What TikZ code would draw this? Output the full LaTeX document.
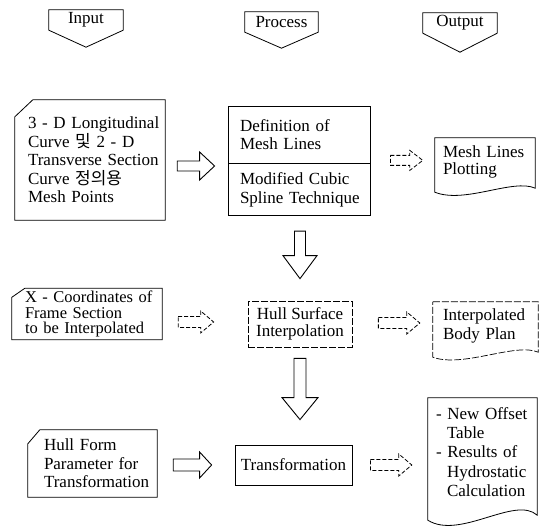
\documentclass[tikz,border=0pt]{standalone}
\usepackage{fontspec}
\setmainfont{Liberation Serif}
\newfontfamily\kr{Noto Sans CJK KR}
\usetikzlibrary{calc}
\tikzset{
  every node/.style={font=\fontsize{17}{18.5}\selectfont, inner sep=0pt},
  box/.style={draw, line width=0.8pt},
  faintbox/.style={draw, line width=0.7pt, dash pattern=on 7pt off 2pt},
  dasharrow/.style={draw, line width=0.8pt, dash pattern=on 4pt off 2pt},
  solidarrow/.style={draw, line width=0.9pt},
  tight/.style={font=\fontsize{16.5}{15.5}\selectfont},
}
\newcommand\lne[1]{\mbox{#1}}
% horizontal hollow block arrow: style, from, to, shaft half, head half, head length
\newcommand\hblk[6]{\draw[#1] let \p1=(#2), \p2=(#3) in
  (\x1,\y1+#4) -- (\x2-#6,\y1+#4) -- (\x2-#6,\y1+#5) -- (\x2,\y1) --
  (\x2-#6,\y1-#5) -- (\x2-#6,\y1-#4) -- (\x1,\y1-#4) -- cycle;}
% vertical (downward) hollow block arrow
\newcommand\vblk[6]{\draw[#1] let \p1=(#2), \p2=(#3) in
  (\x1-#4,\y1) -- (\x1-#4,\y2+#6) -- (\x1-#5,\y2+#6) -- (\x1,\y2) --
  (\x1+#5,\y2+#6) -- (\x1+#4,\y2+#6) -- (\x1+#4,\y1) -- cycle;}
\begin{document}
\begin{tikzpicture}[x={(1pt,0)}, y={(0,-1pt)}]
\useasboundingbox (0,0) rectangle (550,529);
\fill[white] (0,0) rectangle (550,529);

% ---------- headers ----------
\node[minimum width=74pt, minimum height=20pt] (hIn) at (86,20) {Input};
\node[minimum width=73pt, minimum height=20pt] (hPr) at (281.5,22) {Process};
\node[minimum width=74pt, minimum height=20pt] (hOut) at (460,23) {Output};
\foreach \n/\d in {hIn/17pt, hPr/16pt, hOut/19pt}
  \draw[box] (\n.south west) -- (\n.north west) -- (\n.north east) --
    (\n.south east) -- ([yshift=-\d]\n.south) -- cycle;

% ---------- row 1 ----------
\node[minimum width=150pt, minimum height=120pt, text width=124pt, align=left]
  (A) at (90,160)
  {\lne{3 - D Longitudinal}\\\lne{Curve {\kr 및} 2 - D}\\\lne{Transverse Section}\\\lne{Curve {\kr 정의용}}\\\lne{Mesh Points}};
\draw[box] (A.south west) -- (A.south east) -- (A.north east) --
  ([xshift=18pt]A.north west) -- ([yshift=-17pt]A.north west) -- cycle;

\node[box, minimum width=142pt, minimum height=57pt, text width=118pt, align=left]
  (B1) at (299,134.5) {\lne{Definition of}\\\lne{Mesh Lines}};
\node[box, minimum width=142pt, minimum height=52pt, text width=118pt, align=left,
  anchor=north] (B2) at (B1.south) {\lne{Modified Cubic}\\\lne{Spline Technique}};

\node[minimum width=100pt, minimum height=48pt, text width=84pt, align=left,
  font=\fontsize{17}{17}\selectfont] (C) at (485,162) {\lne{Mesh Lines}\\\lne{Plotting}};
\draw[box] (C.north west) -- (C.north east) -- ([yshift=-2pt]C.south east)
  .. controls ([xshift=-22pt,yshift=8pt]C.south east) and ([xshift=30pt,yshift=-18pt]C.south west)
  .. ([yshift=-6pt]C.south west) -- cycle;

\hblk{solidarrow}{$(A.east)+(12pt,-6pt)$}{$(B1.south west)+(-13pt,0)$}{5pt}{14pt}{15pt}
\hblk{dasharrow}{$(B1.south east)+(20pt,3pt)$}{$(C.west)+(-12pt,0)$}{5pt}{10pt}{13pt}

% ---------- row 2 ----------
\node[tight, minimum width=150pt, minimum height=51pt, text width=124pt, align=left]
  (D) at (87,314) {\lne{X - Coordinates of}\\\lne{Frame Section}\\\lne{to be Interpolated}};
\draw[box] (D.south west) -- (D.south east) -- (D.north east) --
  ([xshift=13pt]D.north west) -- ([yshift=-9pt]D.north west) -- cycle;

\node[faintbox, minimum width=104pt, minimum height=46pt, align=center,
  font=\fontsize{17}{17}\selectfont] (E) at (300,324) {Hull Surface\\Interpolation};

\node[minimum width=105pt, minimum height=48pt, text width=85pt, align=left,
  font=\fontsize{17}{19}\selectfont] (F) at (485.5,326) {\lne{Interpolated}\\\lne{Body Plan}};
\draw[faintbox] (F.north west) -- (F.north east) -- ([yshift=-2pt]F.south east)
  .. controls ([xshift=-22pt,yshift=8pt]F.south east) and ([xshift=30pt,yshift=-18pt]F.south west)
  .. ([yshift=-7pt]F.south west) -- cycle;

\hblk{dasharrow}{$(D.east)+(16pt,-8pt)$}{$(E.west)+(-34pt,0)$}{5.5pt}{11pt}{13pt}
\hblk{dasharrow}{$(E.east)+(26pt,1pt)$}{$(F.west)+(-13pt,0)$}{5.5pt}{11pt}{13pt}
\vblk{solidarrow}{$(B2.south)+(1pt,-15pt)$}{$(E.north)+(0,22pt)$}{5.5pt}{17pt}{23pt}

% ---------- row 3 ----------
\node[minimum width=129pt, minimum height=67pt, text width=97pt, align=left]
  (G) at (92.5,463.5) {\lne{Hull Form}\\\lne{Parameter for}\\\lne{Transformation}};
\draw[box] (G.south west) -- (G.south east) -- (G.north east) --
  ([xshift=12pt]G.north west) -- ([yshift=-14pt]G.north west) -- cycle;

\node[box, minimum width=117pt, minimum height=40pt] (H) at (293.5,465) {Transformation};

\node[minimum width=109pt, minimum height=108pt, text width=93pt, align=left,
  font=\fontsize{17}{19.25}\selectfont] (I) at (482.5,452)
  {\lne{- New Offset}\\\hspace*{11pt}\lne{Table}\\\lne{- Results of}\\\hspace*{11pt}\lne{Hydrostatic}\\\hspace*{11pt}\lne{Calculation}};
\draw[box] (I.north west) -- (I.north east) -- ([yshift=-9pt]I.south east)
  .. controls ([xshift=-22pt,yshift=11pt]I.south east) and ([xshift=32pt,yshift=-34pt]I.south west)
  .. ([yshift=-14pt]I.south west) -- cycle;

\hblk{solidarrow}{$(G.east)+(16pt,-1.5pt)$}{$(H.west)+(-23pt,0)$}{6pt}{13pt}{12pt}
\hblk{dasharrow}{$(H.east)+(18pt,0)$}{$(I.west)+(-16pt,0)$}{5.5pt}{11pt}{13pt}
\vblk{solidarrow}{$(E.south)+(0,-11pt)$}{$(H.north)+(0,25pt)$}{6pt}{18pt}{22pt}
\end{tikzpicture}
\end{document}
